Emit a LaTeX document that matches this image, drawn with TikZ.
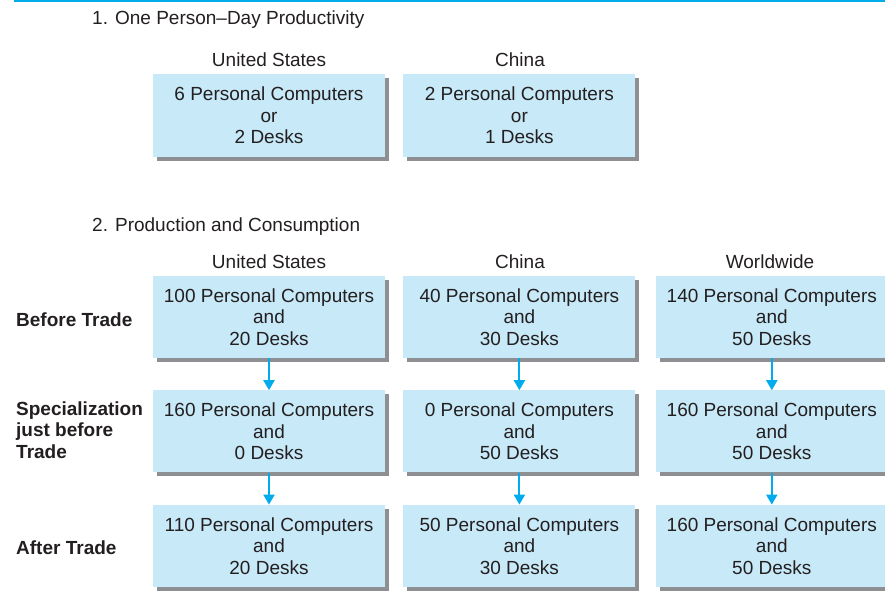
\documentclass[tikz,border=0pt]{standalone}
\usepackage{fontspec}
\setmainfont{Liberation Sans}
\usetikzlibrary{positioning,shadows,arrows.meta}
\definecolor{cBox}{RGB}{200,233,248}
\definecolor{cShade}{RGB}{142,143,147}
\definecolor{cArr}{RGB}{0,172,236}
\definecolor{cText}{RGB}{35,31,32}
\tikzset{mybox/.style={
  shape=rectangle,
  fill=cBox,
  minimum width=232pt,
  minimum height=82pt,
  inner sep=0pt,
  align=center,
  text=cText,
  font=\fontsize{19}{21.5}\selectfont,
  drop shadow={shadow xshift=4pt,shadow yshift=-4pt,fill=cShade,opacity=1},
  }
}
\tikzset{mylabel/.style={
  inner sep=0pt,
  text=cText,
  font=\fontsize{19}{21.5}\selectfont,
  }
}
\tikzset{myrow/.style={
  mylabel,
  anchor=west,
  align=left,
  font=\fontsize{19}{21.5}\selectfont\bfseries,
  }
}
\tikzset{myarrow/.style={
  draw=cArr,
  line width=2pt,
  -{Triangle[width=11pt,length=10pt]},
  }
}

\begin{document}
\begin{tikzpicture}[x=1pt,y=-1pt]
  \useasboundingbox (0,0) rectangle (885,591);
  \draw[cArr, line width=2pt] (14,1) -- (885,1);

  % 1. productivity
  \node [mylabel, anchor=west] (t1) at (92,20) {1. One Person--Day Productivity};
  \node [mybox] (pd-us) at (269,115.5) {6 Personal Computers\\or\\2 Desks};
  \node [mybox, right=18pt of pd-us] (pd-cn) {2 Personal Computers\\or\\1 Desks};
  \node [mylabel] (h1-us) at (269,60) {United States};
  \node [mylabel] (h1-cn) at (520,60) {China};

  % 2. production and consumption
  \node [mylabel, anchor=west] (t2) at (92,227) {2. Production and Consumption};
  \node [mylabel] (h2-us) at (269,262) {United States};
  \node [mylabel] (h2-cn) at (520,262) {China};
  \node [mylabel] (h2-ww) at (770,262) {Worldwide};

  \node [mybox] (bt-us) at (269,317) {100 Personal Computers\\and\\20 Desks};
  \node [mybox, right=18pt of bt-us] (bt-cn) {40 Personal Computers\\and\\30 Desks};
  \node [mybox, right=20pt of bt-cn] (bt-ww) {140 Personal Computers\\and\\50 Desks};

  \node [mybox, below=32pt of bt-us] (sp-us) {160 Personal Computers\\and\\0 Desks};
  \node [mybox, below=32pt of bt-cn] (sp-cn) {0 Personal Computers\\and\\50 Desks};
  \node [mybox, below=32pt of bt-ww] (sp-ww) {160 Personal Computers\\and\\50 Desks};

  \node [mybox, below=32pt of sp-us] (at-us) {110 Personal Computers\\and\\20 Desks};
  \node [mybox, below=32pt of sp-cn] (at-cn) {50 Personal Computers\\and\\30 Desks};
  \node [mybox, below=32pt of sp-ww] (at-ww) {160 Personal Computers\\and\\50 Desks};

  \node [myrow] (r-bt) at (16,320) {Before Trade};
  \node [myrow] (r-sp) at (16,430) {Specialization\\just before\\Trade};
  \node [myrow] (r-at) at (16,548) {After Trade};

  \draw [myarrow] (bt-us) -- (sp-us);
  \draw [myarrow] (bt-cn) -- (sp-cn);
  \draw [myarrow] (bt-ww) -- (sp-ww);
  \draw [myarrow] (sp-us) -- (at-us);
  \draw [myarrow] (sp-cn) -- (at-cn);
  \draw [myarrow] (sp-ww) -- (at-ww);
\end{tikzpicture}
\end{document}
